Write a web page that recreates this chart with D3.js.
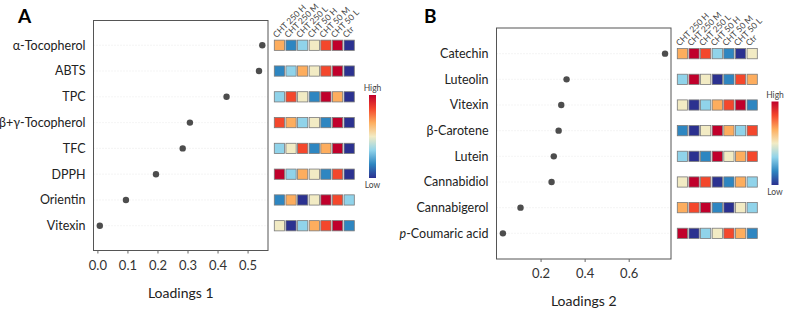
<!DOCTYPE html>
<html>
<head>
<meta charset="utf-8">
<script src="https://cdn.jsdelivr.net/npm/d3@7"></script>
<style>
  body { margin: 0; background: #fff; }
  svg text { font-family: Lato, "Open Sans", sans-serif; }
</style>
</head>
<body>
<div id="chart"></div>
<script>
// heatmap columns (treatments)
var treatments = ["CHT 250 H", "CHT 250 M", "CHT 250 L", "CHT 50 H", "CHT 50 M", "CHT 50 L", "Ctr"];

// panel A
var rowsA = ["α-Tocopherol", "ABTS", "TPC", "β+γ-Tocopherol", "TFC", "DPPH", "Orientin", "Vitexin"];
var loadA = [0.549, 0.538, 0.430, 0.308, 0.284, 0.195, 0.095, 0.008];
var ticksA = [0.0, 0.1, 0.2, 0.3, 0.4, 0.5];
// relative level per treatment, 1 = low ... 7 = high
var levelA = [
  [5, 2, 3, 4, 6, 7, 1],
  [2, 3, 5, 4, 6, 7, 1],
  [3, 6, 4, 2, 7, 5, 1],
  [6, 5, 3, 4, 2, 7, 1],
  [3, 4, 6, 2, 5, 7, 1],
  [7, 3, 5, 4, 2, 6, 1],
  [2, 5, 1, 4, 7, 6, 3],
  [4, 1, 3, 5, 6, 7, 2]
];

// panel B
var rowsB = ["Catechin", "Luteolin", "Vitexin", "β-Carotene", "Lutein", "Cannabidiol", "Cannabigerol", "p-Coumaric acid"];
var loadB = [0.765, 0.318, 0.294, 0.282, 0.260, 0.250, 0.109, 0.029];
var ticksB = [0.2, 0.4, 0.6];
var levelB = [
  [5, 7, 6, 3, 2, 1, 4],
  [3, 7, 4, 1, 2, 6, 5],
  [4, 1, 3, 5, 6, 7, 2],
  [2, 1, 4, 7, 5, 3, 6],
  [3, 1, 2, 7, 4, 5, 6],
  [4, 7, 6, 1, 2, 5, 3],
  [5, 6, 7, 2, 1, 4, 3],
  [7, 1, 3, 4, 6, 5, 2]
];

var palette = ["#2b3190", "#2e86c1", "#90d3ea", "#f2ebc4", "#fdad5e", "#f4472c", "#c0002b"];
var levelColor = d3.scaleOrdinal().domain([1, 2, 3, 4, 5, 6, 7]).range(palette);

var W = 787, H = 311;
var svg = d3.select("#chart").append("svg")
    .attr("width", W)
    .attr("height", H);

var grad = svg.append("defs").append("linearGradient")
    .attr("id", "cbar")
    .attr("x1", 0).attr("y1", 1).attr("x2", 0).attr("y2", 0);
palette.forEach(function(c, i) {
  grad.append("stop")
      .attr("offset", (i / (palette.length - 1)) * 100 + "%")
      .attr("stop-color", c);
});

function drawPanel(p) {
  var g = svg.append("g");

  // panel letter
  g.append("text")
      .attr("x", p.letterX)
      .attr("y", 23)
      .attr("font-size", 19)
      .attr("font-weight", "bold")
      .attr("font-family", "Liberation Sans, Arial, sans-serif")
      .text(p.letter);

  var x = d3.scaleLinear().domain(p.xDomain).range([p.left, p.right]);
  var y = d3.scalePoint().domain(p.rows).range([p.top, p.bottom]).padding(p.pad);

  // faint row guides
  g.selectAll(".guide")
      .data(p.rows)
      .enter().append("line")
      .attr("x1", p.left).attr("x2", p.right)
      .attr("y1", function(d) { return y(d); })
      .attr("y2", function(d) { return y(d); })
      .attr("stroke", "#e4e4e4")
      .attr("stroke-width", 0.8)
      .attr("stroke-dasharray", "1,2");

  // frame
  g.append("rect")
      .attr("x", p.left).attr("y", p.top)
      .attr("width", p.right - p.left)
      .attr("height", p.bottom - p.top)
      .attr("fill", "none")
      .attr("stroke", "#555")
      .attr("stroke-width", 1);

  // x axis
  var xAxis = d3.axisBottom(x).tickValues(p.ticks).tickSize(3).tickSizeOuter(0)
      .tickFormat(d3.format(".1f"));
  var ax = g.append("g")
      .attr("transform", "translate(0," + p.bottom + ")")
      .call(xAxis);
  ax.select(".domain").remove();
  ax.selectAll("line").attr("stroke", "#666");
  ax.selectAll("text")
      .attr("font-size", 13)
      .attr("fill", "#333")
      .attr("dy", "1.0em")
      .attr("font-family", "Lato, sans-serif");

  g.append("text")
      .attr("x", (p.left + p.right) / 2)
      .attr("y", p.bottom + 47)
      .attr("text-anchor", "middle")
      .attr("font-size", 14)
      .attr("fill", "#222")
      .text(p.xLabel);

  // row labels
  g.selectAll(".rlab")
      .data(p.rows)
      .enter().append("text")
      .attr("x", p.left - 8)
      .attr("y", function(d) { return y(d); })
      .attr("dy", "0.35em")
      .attr("text-anchor", "end")
      .attr("font-size", 12.5)
      .attr("fill", "#222")
      .each(function(d) {
        var t = d3.select(this);
        if (d.indexOf("p-") === 0) {
          t.append("tspan").attr("font-style", "italic").text("p");
          t.append("tspan").text(d.slice(1));
        } else {
          t.text(d);
        }
      });

  // points
  g.selectAll(".pt")
      .data(p.values)
      .enter().append("circle")
      .attr("cx", function(d) { return x(d); })
      .attr("cy", function(d, i) { return y(p.rows[i]); })
      .attr("r", 3.2)
      .attr("fill", "#4d4d4d");

  // heatmap
  var hx = d3.scaleBand().domain(treatments).range([p.hLeft, p.hLeft + 80]).paddingInner(0.12);
  var sq = hx.bandwidth();
  var cells = [];
  p.levels.forEach(function(row, i) {
    row.forEach(function(v, j) {
      cells.push({ r: p.rows[i], c: treatments[j], v: v });
    });
  });
  g.selectAll(".cell")
      .data(cells)
      .enter().append("rect")
      .attr("x", function(d) { return hx(d.c); })
      .attr("y", function(d) { return y(d.r) - sq / 2; })
      .attr("width", sq)
      .attr("height", sq)
      .attr("fill", function(d) { return levelColor(d.v); })
      .attr("stroke", "#7a7a7a")
      .attr("stroke-width", 0.8);

  var topY = y(p.rows[0]) - sq / 2;
  g.selectAll(".clab")
      .data(treatments)
      .enter().append("text")
      .attr("transform", function(d) {
        return "translate(" + (hx(d) + sq / 2 - 3) + "," + (topY - 2) + ") rotate(-45)";
      })
      .attr("font-size", 8.5)
      .attr("fill", "#444")
      .attr("font-family", "Liberation Sans, Arial, sans-serif")
      .text(function(d) { return d; });

  // colour bar legend
  g.append("rect")
      .attr("x", p.cbX).attr("y", p.cbTop)
      .attr("width", 7).attr("height", p.cbBottom - p.cbTop)
      .attr("fill", "url(#cbar)");
  g.append("text")
      .attr("x", p.cbX + 3.5).attr("y", p.cbTop - 4)
      .attr("text-anchor", "middle")
      .attr("font-size", 8.5)
      .attr("fill", "#444")
      .attr("font-family", "Liberation Sans, Arial, sans-serif")
      .text("High");
  g.append("text")
      .attr("x", p.cbX + 3.5).attr("y", p.cbBottom + 10)
      .attr("text-anchor", "middle")
      .attr("font-size", 8.5)
      .attr("fill", "#444")
      .attr("font-family", "Liberation Sans, Arial, sans-serif")
      .text("Low");
}

drawPanel({
  letter: "A", letterX: 18,
  rows: rowsA, values: loadA, levels: levelA, ticks: ticksA,
  xDomain: [-0.013, 0.568], xLabel: "Loadings 1",
  left: 93.5, right: 268, top: 20.5, bottom: 250.5, pad: 0.96,
  hLeft: 274.3, cbX: 369, cbTop: 95, cbBottom: 178
});

drawPanel({
  letter: "B", letterX: 424,
  rows: rowsB, values: loadB, levels: levelB, ticks: ticksB,
  xDomain: [0, 0.792], xLabel: "Loadings 2",
  left: 496.5, right: 671, top: 28, bottom: 259, pad: 1.0,
  hLeft: 677.3, cbX: 771.5, cbTop: 101.5, cbBottom: 185
});
</script>
</body>
</html>
